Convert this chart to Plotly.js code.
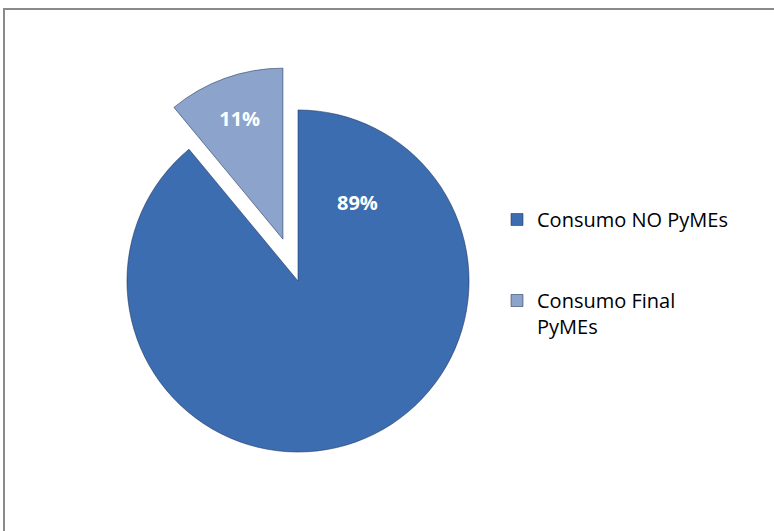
<!DOCTYPE html>
<html>
<head>
<meta charset="utf-8">
<script src="https://cdn.plot.ly/plotly-3.0.1.min.js"></script>
<style>html,body{margin:0;padding:0;background:#fff;}#chart{width:774px;height:531px;}</style>
</head>
<body>
<div id="chart"></div>
<script>
const categories = ["Consumo NO PyMEs", "Consumo Final<br>PyMEs"];
const values = [89, 11];
const sliceColors = ["#3B6DB0", "#8CA4CC"];
const pulls = [0, 0.26];

const W = 774, H = 531;
const total = values.reduce((a, b) => a + b, 0);
// legend spacing: pad the first entry with blank lines (as in the reference spacing)
const legendLabels = [categories[0] + "<br>&nbsp;<br>&nbsp;", categories[1]];

const trace = {
  type: "pie",
  labels: legendLabels,
  values: values,
  sort: false,
  direction: "clockwise",
  rotation: 0,
  pull: pulls,
  marker: {colors: sliceColors, line: {color: "rgba(30,50,90,0.55)", width: 1}},
  texttemplate: ["", "%{percent:.0%}"],
  textposition: "inside",
  insidetextfont: {family: "Open Sans, sans-serif", size: 20, color: "#ffffff", weight: "bold"},
  hoverinfo: "label+percent",
  domain: {x: [82.5 / W, 513.5 / W], y: [1 - 496.5 / H, 1 - 65.5 / H]}
};

const layout = {
  width: W, height: H,
  margin: {l: 0, r: 0, t: 0, b: 0},
  paper_bgcolor: "#ffffff",
  showlegend: true,
  legend: {
    x: 497 / W, xanchor: "left",
    y: 1 - 200 / H, yanchor: "top",
    valign: "top",
    font: {family: "Open Sans, sans-serif", size: 20, color: "#000000"},
    bgcolor: "rgba(0,0,0,0)"
  },
  annotations: [{
    xref: "paper", yref: "paper",
    x: 357 / W, y: 1 - 202 / H,
    text: Math.round(values[0] / total * 100) + "%",
    showarrow: false,
    font: {family: "Open Sans, sans-serif", size: 20, color: "#ffffff", weight: "bold"}
  }],
  shapes: [{
    type: "rect", xref: "paper", yref: "paper",
    x0: 4 / W, x1: 1.02, y0: -0.02, y1: 1 - 9 / H,
    line: {color: "#8a8a8a", width: 2}, layer: "below"
  }]
};

Plotly.newPlot("chart", [trace], layout, {displayModeBar: false, staticPlot: true});
</script>
</body>
</html>
